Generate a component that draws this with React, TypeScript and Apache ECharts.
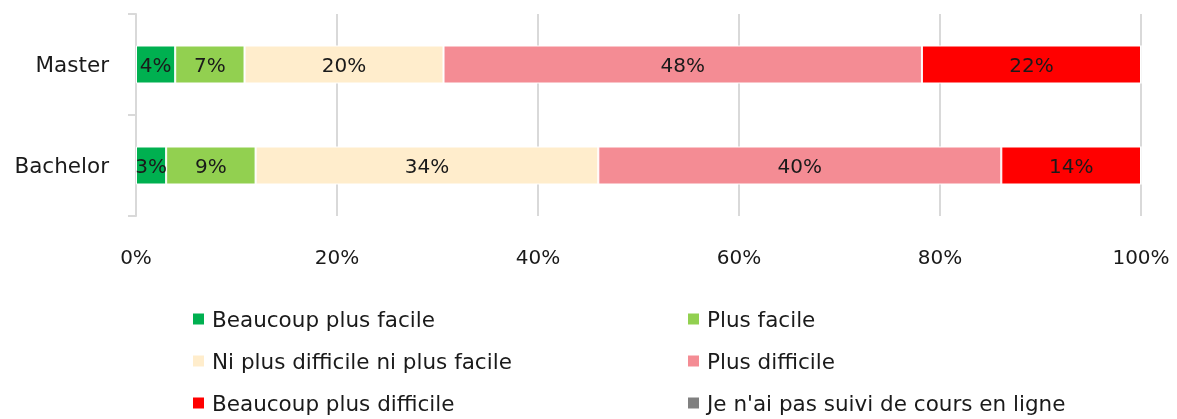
import React, { useEffect, useRef } from "react";
import * as echarts from "echarts";

const categories = ["Master", "Bachelor"];
const seriesNames = [
  "Beaucoup plus facile",
  "Plus facile",
  "Ni plus difficile ni plus facile",
  "Plus difficile",
  "Beaucoup plus difficile",
  "Je n'ai pas suivi de cours en ligne",
];
const beaucoupPlusFacile = [3.9, 3.0];
const plusFacile = [6.9, 8.9];
const niNi = [19.8, 34.1];
const plusDifficile = [47.6, 40.1];
const beaucoupPlusDifficile = [21.8, 13.9];
const pasSuivi = [0, 0];
const seriesValues = [beaucoupPlusFacile, plusFacile, niNi, plusDifficile, beaucoupPlusDifficile, pasSuivi];
const colors = ["#00B050", "#92D050", "#FFEDCC", "#F48C94", "#FF0000", "#808080"];
const xTicks = [0, 20, 40, 60, 80, 100];

const FONT = "DejaVu Sans";
const TEXT = "#1a1a1a";
const FS_TEXT = 21.5;
const FS_NUM = 20;

export default function App() {
  const ref = useRef<HTMLDivElement>(null);
  useEffect(() => {
    const chart = echarts.init(ref.current!, null, { renderer: "svg" });
    const legendBase = {
      orient: "vertical",
      top: 303,
      itemWidth: 13,
      itemHeight: 13,
      itemGap: 20,
      icon: "rect",
      textStyle: { fontSize: FS_TEXT, color: TEXT, fontFamily: FONT, padding: [0, 0, 0, 2] },
    };
    chart.setOption({
      animation: false,
      textStyle: { fontFamily: FONT },
      grid: { left: 136, right: 36, top: 14, bottom: 203, containLabel: false },
      xAxis: {
        type: "value",
        min: xTicks[0],
        max: xTicks[xTicks.length - 1],
        interval: 20,
        axisLine: { show: false },
        axisTick: { show: false },
        splitLine: { show: true, lineStyle: { color: "#d9d9d9", width: 2 } },
        axisLabel: { formatter: "{value}%", fontSize: FS_NUM, color: TEXT, fontFamily: FONT, margin: 31 },
      },
      yAxis: {
        type: "category",
        data: categories,
        inverse: true,
        axisLine: { show: true, lineStyle: { color: "#d9d9d9", width: 2 } },
        axisTick: { show: true, length: 8, lineStyle: { color: "#d9d9d9", width: 2 } },
        axisLabel: { fontSize: FS_TEXT, color: TEXT, fontFamily: FONT, margin: 27 },
      },
      legend: [
        { ...legendBase, left: 186, data: [seriesNames[0], seriesNames[2], seriesNames[4]] },
        { ...legendBase, left: 681, data: [seriesNames[1], seriesNames[3], seriesNames[5]] },
      ],
      series: seriesNames.map((name, i) => ({
        name,
        type: "bar",
        stack: "total",
        barWidth: 38,
        data: seriesValues[i],
        itemStyle: { color: colors[i], borderColor: "#ffffff", borderWidth: 1 },
        label: {
          show: true,
          position: "inside",
          color: TEXT,
          fontSize: FS_NUM,
          fontFamily: FONT,
          formatter: (p: any) => (p.value > 0 ? Math.round(p.value) + "%" : ""),
        },
      })),
    });
    return () => chart.dispose();
  }, []);
  return <div ref={ref} style={{ position: "fixed", left: 0, top: 0, width: 1177, height: 419 }} />;
}
